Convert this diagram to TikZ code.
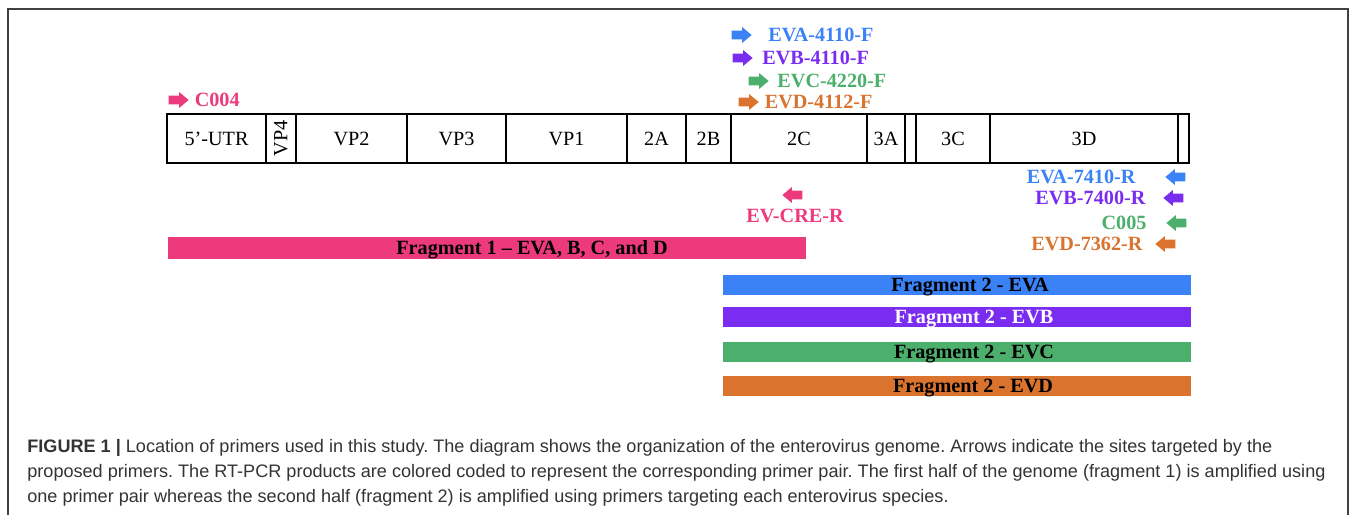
\documentclass[tikz,border=0pt]{standalone}
\usepackage{fontspec}
\usepackage{graphicx}
\setmainfont{Liberation Serif}
\setsansfont{Liberation Sans}
\usetikzlibrary{positioning,shapes.arrows}
\definecolor{evpink}{HTML}{EC3A7C}
\definecolor{evblue}{HTML}{3B82F6}
\definecolor{evpurple}{HTML}{7A2CF0}
\definecolor{evgreen}{HTML}{4CAF6C}
\definecolor{evorange}{HTML}{D9732E}
\definecolor{capgray}{HTML}{333333}

\begin{document}
\begin{tikzpicture}[x=0.02cm,y=-0.02cm,
    seg/.style={draw, line width=0.75pt, inner sep=0pt, minimum height=27.9pt, font=\fontsize{11.5}{13}\selectfont},
    fwd/.style={single arrow, fill=#1, draw=none, inner sep=2.3pt, minimum height=11.4pt, single arrow head extend=2pt, single arrow tip angle=80},
    rev/.style={fwd=#1, shape border rotate=180},
    plab/.style={text=#1, inner sep=0pt, font=\fontsize{11.5}{13}\selectfont\bfseries},
    frag/.style={fill=#1, inner sep=0pt, minimum height=11.4pt, minimum width=266.3pt},
    fraglab/.style={inner sep=0pt, anchor=base, font=\fontsize{11.5}{13}\selectfont\bfseries}]
  \useasboundingbox (0,0) rectangle (1357,515);
  \draw[line width=0.8pt, black!75] (8,515) -- (8,9) -- (1348,9) -- (1348,515);

  % genome organisation
  \foreach \l/\r/\t/\n in {167/266/5’-UTR/utr, 266/296/{\rotatebox{90}{VP4}}/vpfour,
      296/407/VP2/vptwo, 407/506/VP3/vpthree, 506/627/VP1/vpone, 627/686/2A/twoa,
      686/731/2B/twob, 731/867/2C/twoc, 867/905/3A/threea, 905/916/{}/threeb,
      916/990/3C/threec, 990/1178/3D/threed, 1178/1189/{}/tail}
    \node[seg, minimum width={(\r-\l)*0.569pt}] (\n) at ({(\l+\r)/2},138.5) {\t};

  % forward primers
  \node[fwd=evpink] (cfa) at (176,100) {};
  \node[plab=evpink, right=3pt of cfa] (cf) {C004};
  \node[fwd=evblue] (evafa) at (739,35) {};
  \node[plab=evblue, right=9pt of evafa] (evaf) {EVA-4110-F};
  \node[fwd=evpurple] (evbfa) at (740,58) {};
  \node[plab=evpurple, right=5pt of evbfa] (evbf) {EVB-4110-F};
  \node[fwd=evgreen] (evcfa) at (756,81) {};
  \node[plab=evgreen, right=4.5pt of evcfa] (evcf) {EVC-4220-F};
  \node[fwd=evorange] (evdfa) at (746,102) {};
  \node[plab=evorange, right=3pt of evdfa] (evdf) {EVD-4112-F};

  % reverse primers
  \node[rev=evpink] (crea) at (795,195) {};
  \node[plab=evpink, below=5pt of crea] (cre) {EV-CRE-R};
  \node[rev=evblue] (evara) at (1178,177) {};
  \node[plab=evblue, left=16.5pt of evara] (evar) {EVA-7410-R};
  \node[rev=evpurple] (evbra) at (1176,198) {};
  \node[plab=evpurple, left=9.7pt of evbra] (evbr) {EVB-7400-R};
  \node[rev=evgreen] (cra) at (1179,223) {};
  \node[plab=evgreen, left=10.8pt of cra] (cr) {C005};
  \node[rev=evorange] (evdra) at (1168,244) {};
  \node[plab=evorange, left=6.8pt of evdra] (evdr) {EVD-7362-R};

  % RT-PCR products
  \node[frag=evpink, minimum height=12.5pt, minimum width=363pt] (fone) at (487,248) {};
  \node[fraglab] (fonet) at (532,254) {Fragment 1 – EVA, B, C, and D};
  \node[frag=evblue] (fa) at (957,285) {};
  \node[fraglab] (fat) at (970,291) {Fragment 2 - EVA};
  \node[frag=evpurple] (fb) at (957,317) {};
  \node[fraglab, text=white] (fbt) at (974,323) {Fragment 2 - EVB};
  \node[frag=evgreen] (fc) at (957,352) {};
  \node[fraglab] (fct) at (974,358) {Fragment 2 - EVC};
  \node[frag=evorange] (fd) at (957,386) {};
  \node[fraglab] (fdt) at (973,392) {Fragment 2 - EVD};

  \node[anchor=north west, align=left, inner sep=0pt, text=capgray,
      font=\sffamily\fontsize{10.3}{14.2}\selectfont\frenchspacing] (caption) at (27,439)
    {\textbf{FIGURE 1 |} Location of primers used in this study. The diagram shows the organization of the enterovirus genome. Arrows indicate the sites targeted by the\\
     proposed primers. The RT-PCR products are colored coded to represent the corresponding primer pair. The first half of the genome (fragment 1) is amplified using\\
     one primer pair whereas the second half (fragment 2) is amplified using primers targeting each enterovirus species.};
\end{tikzpicture}
\end{document}
